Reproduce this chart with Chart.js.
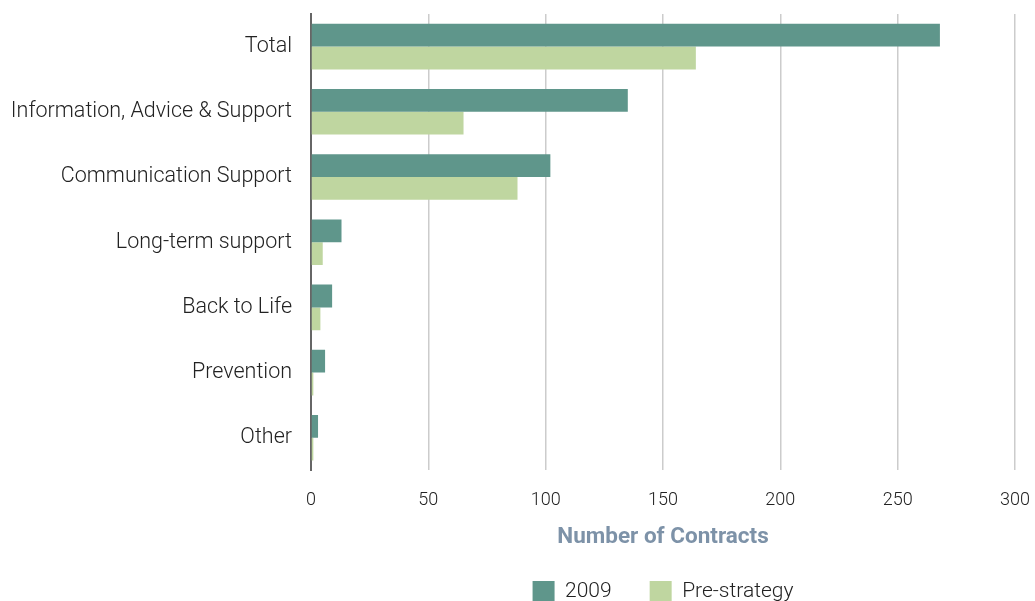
<!DOCTYPE html>
<html>
<head>
<meta charset="utf-8">
<script src="https://cdn.jsdelivr.net/npm/chart.js@4.4.1/dist/chart.umd.min.js"></script>
<style>
  html, body { margin: 0; padding: 0; background: #fff; }
  #wrap { width: 1035px; height: 601px; }
</style>
</head>
<body>
<div id="wrap"><canvas id="contractsChart" width="1035" height="601"></canvas></div>
<script>
const categories = ['Total', 'Information, Advice & Support', 'Communication Support',
    'Long-term support', 'Back to Life', 'Prevention', 'Other'];
const contracts2009 = [268, 135, 102, 13, 9, 6, 3];
const contractsPre = [164, 65, 88, 5, 4, 1, 1];
const xTicks = [0, 50, 100, 150, 200, 250, 300];

const FONT = 'Roboto, "Liberation Sans", sans-serif';

const ctx = document.getElementById('contractsChart').getContext('2d');
const chart = new Chart(ctx, {
    type: 'bar',
    data: {
        labels: categories,
        datasets: [{
            label: '2009',
            data: contracts2009,
            backgroundColor: '#5f968b',
            categoryPercentage: 0.7,
            barPercentage: 1.0
        }, {
            label: 'Pre-strategy',
            data: contractsPre,
            backgroundColor: '#bfd6a0',
            categoryPercentage: 0.7,
            barPercentage: 1.0
        }]
    },
    options: {
        indexAxis: 'y',
        responsive: false,
        animation: false,
        layout: {
            padding: { top: 14, right: 20, bottom: -11, left: 0 }
        },
        plugins: {
            legend: {
                position: 'bottom',
                fullSize: false,
                labels: {
                    boxWidth: 22,
                    boxHeight: 21,
                    padding: 38,
                    color: '#222',
                    font: { family: FONT, size: 21, weight: '300' }
                }
            },
            tooltip: { enabled: false }
        },
        scales: {
            x: {
                min: 0,
                max: 300,
                afterBuildTicks: axis => {
                    axis.ticks = xTicks.map(v => ({ value: v }));
                },
                afterFit: scale => {
                    scale.paddingLeft = 0;
                    scale.paddingRight = 0;
                },
                grid: {
                    color: '#cccccc',
                    lineWidth: 1.5,
                    drawTicks: false
                },
                border: { display: false },
                ticks: {
                    color: '#222',
                    padding: 19,
                    font: { family: FONT, size: 18, weight: '300' }
                },
                title: {
                    display: true,
                    text: 'Number of Contracts',
                    color: '#7d92a8',
                    padding: { top: -6, bottom: -8 },
                    font: { family: FONT, size: 22.5, weight: 'bold' }
                }
            },
            y: {
                afterFit: scale => {
                    scale.width = 311;
                    scale.paddingTop = 0;
                    scale.paddingBottom = 0;
                },
                grid: { display: false, drawTicks: false },
                border: { display: true, color: '#666666', width: 2 },
                ticks: {
                    color: '#222',
                    padding: 19,
                    font: { family: FONT, size: 21.5, weight: '300' }
                }
            }
        }
    }
});
</script>
</body>
</html>
